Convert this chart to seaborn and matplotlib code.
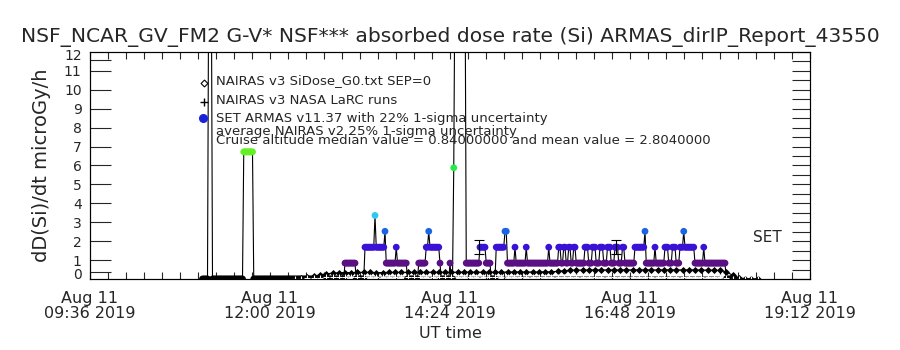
import numpy as np
import pandas as pd
import matplotlib
matplotlib.use("Agg")
import matplotlib.pyplot as plt
import matplotlib.ticker as mticker
import matplotlib.dates as mdates
import matplotlib.transforms as mtransforms
import seaborn as sns

DAY = "2019-08-11 "
QUANTUM = 0.84  # ARMAS dose rate step, microGy/h

# ARMAS SET runs: level (in 0.84 steps) holds each minute from its start to the next start
armas_start = [
    "11:06", "11:11", "11:14", "11:39", "11:47", "13:00", "13:09", "13:16",
    "13:24", "13:25", "13:32", "13:33", "13:41", "13:42", "13:50", "13:59",
    "14:05", "14:07", "14:08", "14:16", "14:17", "14:24", "14:25", "14:27",
    "14:28", "14:37", "14:48", "14:53", "14:57", "15:01", "15:08", "15:10",
    "15:16", "15:17", "15:25", "15:26", "15:43", "15:44", "15:51", "15:53",
    "15:55", "15:57", "15:59", "16:01", "16:03", "16:05", "16:12", "16:15",
    "16:18", "16:21", "16:24", "16:27", "16:30", "16:33", "16:36", "16:39",
    "16:42", "16:44", "16:52", "17:00", "17:01", "17:08", "17:09", "17:16",
    "17:19", "17:22", "17:25", "17:28", "17:31", "17:32", "17:40", "17:47",
    "17:48", "18:05",
]
armas_level = [
    0, 20, 0, 8, 0, 1, 0, 2,
    4, 2, 3, 1, 2, 1, 0, 1,
    2, 3, 2, 1, 0, 1, 0, 7,
    20, 1, 2, 1, 0, 2, 3, 1,
    2, 1, 2, 1, 2, 1, 2, 1,
    2, 1, 2, 1, 2, 1, 2, 1,
    2, 1, 2, 1, 2, 1, 2, 1,
    2, 1, 2, 3, 1, 2, 1, 2,
    1, 2, 1, 2, 3, 2, 1, 2,
    1, 0,
]
armas_stop = "18:12"

# NAIRAS model runs, one value every 5 minutes from 12:20
nairas_first = "12:20"
nairas_dose = [
    0.00, 0.03, 0.08, 0.15, 0.22, 0.27, 0.31, 0.33,
    0.34, 0.34, 0.35, 0.35, 0.35, 0.34, 0.34, 0.35, 0.35, 0.35, 0.35, 0.35,
    0.35, 0.35, 0.36, 0.36, 0.35, 0.35, 0.36, 0.36, 0.36, 0.36, 0.36, 0.36,
    0.36, 0.36, 0.37, 0.37, 0.37, 0.37, 0.37, 0.37, 0.38, 0.38, 0.40, 0.44,
    0.46, 0.47, 0.47, 0.48, 0.48, 0.48, 0.48, 0.48, 0.48, 0.48, 0.48, 0.48,
    0.48, 0.48, 0.48, 0.48, 0.48, 0.48, 0.48, 0.48, 0.48, 0.47, 0.47, 0.46,
    0.45, 0.38, 0.20, 0.06, 0.02, 0.00, 0.00,
]
larc_dose = [
    0.00, 0.01, 0.03, 0.05, 0.07, 0.08, 0.08, 0.09,
    0.09, 0.09, 0.09, 0.09, 0.09, 0.09, 0.09, 0.09, 0.09, 0.09, 0.09, 0.09,
    0.09, 0.09, 0.09, 0.09, 0.09, 0.09, 0.09, 0.09, 0.09, 0.09, 0.09, 0.09,
    0.09, 0.09, 0.09, 0.09, 0.10, 0.10, 0.10, 0.10, 0.10, 0.10, 0.10, 0.10,
    0.10, 0.10, 0.10, 0.10, 0.10, 0.10, 0.10, 0.10, 0.10, 0.10, 0.10, 0.10,
    0.10, 0.10, 0.10, 0.10, 0.10, 0.10, 0.10, 0.10, 0.10, 0.10, 0.10, 0.10,
    0.09, 0.05, 0.01, 0.00, 0.00, 0.00, 0.00,
]

# 22% 1-sigma bars on two ARMAS readings
err_time = ["14:47", "16:37"]
err_dose = [1.68, 1.68]
err_sigma = [0.37, 0.37]

x_first, x_last = "09:36", "19:12"

level_colors = {
    0: "#000000", 1: "#5a0f82", 2: "#3a12d6", 3: "#1866e6",
    4: "#2ec8f2", 7: "#20ee46", 8: "#64f024", 20: "#e00000",
}

# expand the runs to one reading per minute
starts = pd.to_datetime([DAY + s for s in armas_start])
ends = list(starts[1:]) + [pd.Timestamp(DAY + armas_stop) + pd.Timedelta(minutes=1)]
rows = []
for t0, t1, lvl in zip(starts, ends, armas_level):
    for t in pd.date_range(t0, t1 - pd.Timedelta(minutes=1), freq="1min"):
        rows.append((t, lvl))
armas = pd.DataFrame(rows, columns=["time", "level"])
armas["dose"] = armas["level"] * QUANTUM

ntime = pd.date_range(DAY + nairas_first, periods=len(nairas_dose), freq="5min")
nairas = pd.DataFrame({"time": ntime, "sidose": nairas_dose, "larc": larc_dose})

sns.set_theme(style="white")
plt.rcParams["font.family"] = ["DejaVu Sans"]
plt.rcParams["axes.linewidth"] = 0.8

fig = plt.figure(figsize=(9, 3.5), dpi=100)
ax = fig.add_axes([0.1, 0.2029, 0.8, 0.6486])

ax.plot(armas["time"], armas["dose"], color="black", lw=0.8, zorder=2)
sns.scatterplot(data=armas, x="time", y="dose", hue="level", palette=level_colors,
                s=24, linewidth=0, legend=False, ax=ax, zorder=3)

sns.lineplot(data=nairas, x="time", y="sidose", color="black", lw=0.8,
             marker="D", markersize=3.0, markerfacecolor="black",
             markeredgecolor="black", markeredgewidth=0.6, estimator=None, ax=ax, zorder=4)
sns.lineplot(data=nairas, x="time", y="larc", color="black", lw=0.8,
             marker="+", markersize=5, markeredgewidth=0.8, estimator=None, ax=ax, zorder=4)

ax.errorbar(pd.to_datetime([DAY + t for t in err_time]), err_dose, yerr=err_sigma,
            fmt="none", ecolor="black", elinewidth=0.8, capsize=3.5, capthick=0.8, zorder=5)

ax.text(pd.Timestamp(DAY + "18:26"), 2.2, "SET", fontsize=11, va="center", ha="left")

ax.set_xlim(pd.Timestamp(DAY + x_first), pd.Timestamp(DAY + x_last))
ax.set_ylim(0, 12)

ax.xaxis.set_major_locator(mticker.MultipleLocator(0.1))   # 2.4 h
ax.xaxis.set_minor_locator(mticker.MultipleLocator(0.01))  # 14.4 min
ax.xaxis.set_major_formatter(mdates.DateFormatter("%b %d\n%H:%M %Y"))
ax.yaxis.set_major_locator(mticker.FixedLocator(range(1, 12)))
ax.yaxis.set_minor_locator(mticker.FixedLocator([0.35, 11.55]))

ax.tick_params(axis="x", which="both", direction="in", length=5, width=0.8,
               top=True, bottom=True, labelsize=11.5, pad=9)
ax.tick_params(axis="y", which="both", direction="in", length=15, width=0.8,
               left=True, right=False, labelsize=10, pad=6)
for lab in ax.get_xticklabels():
    lab.set_linespacing(0.95)

# end labels of the y axis sit just inside the frame
zero_tr = mtransforms.offset_copy(ax.get_yaxis_transform(), fig=fig, x=-6, y=0, units="points")
top_tr = mtransforms.offset_copy(ax.get_yaxis_transform(), fig=fig, x=-6, y=2, units="points")
ax.text(0, 0, "0", transform=zero_tr, ha="right", va="baseline", fontsize=10)
ax.text(0, 12, "12", transform=top_tr, ha="right", va="top", fontsize=10)

axr = ax.twinx()
axr.set_ylim(0, 12)
axr.yaxis.set_major_locator(mticker.MultipleLocator(0.5))
axr.tick_params(axis="y", direction="in", length=13, width=0.8, labelright=False)
axr.grid(False)

for a in (ax, axr):
    for sp in a.spines.values():
        sp.set_color("black")
        sp.set_linewidth(0.8)

ax.set_xlabel("UT time", fontsize=11.5, labelpad=4)
ax.set_ylabel("dD(Si)/dt microGy/h", fontsize=14, labelpad=9)
fig.suptitle("NSF_NCAR_GV_FM2 G-V* NSF*** absorbed dose rate (Si) ARMAS_dirIP_Report_43550",
             x=0.5, y=1 - 37 / 350, va="center", fontsize=14.6)

# legend block, placed in pixels of the 900x350 figure
def fx(px):
    return px / 900

def fy(py):
    return 1 - py / 350

leg_fs = 9.5
fig.text(fx(216), fy(81), "NAIRAS v3 SiDose_G0.txt SEP=0", fontsize=leg_fs, va="center")
fig.text(fx(216), fy(100), "NAIRAS v3 NASA LaRC runs", fontsize=leg_fs, va="center")
fig.text(fx(216), fy(118), "SET ARMAS v11.37 with 22% 1-sigma uncertainty", fontsize=leg_fs, va="center")
fig.text(fx(216), fy(131), "average NAIRAS v2 25% 1-sigma uncertainty", fontsize=leg_fs, va="center")
fig.text(fx(216), fy(140),
         "Cruise altitude median value = 0.84000000 and mean value = 2.8040000",
         fontsize=leg_fs, va="center")
fig.lines.append(plt.Line2D([fx(204)], [fy(83)], marker="D", ms=3.5, mfc="none",
                            mec="black", mew=0.8, transform=fig.transFigure))
fig.lines.append(plt.Line2D([fx(204)], [fy(102)], marker="+", ms=6, mec="black",
                            mew=1.0, transform=fig.transFigure))
fig.lines.append(plt.Line2D([fx(203)], [fy(118)], marker="o", ms=5.5, mfc="#1a22d8",
                            mec="#1a22d8", transform=fig.transFigure))

fig.savefig("out.png", dpi=100)
